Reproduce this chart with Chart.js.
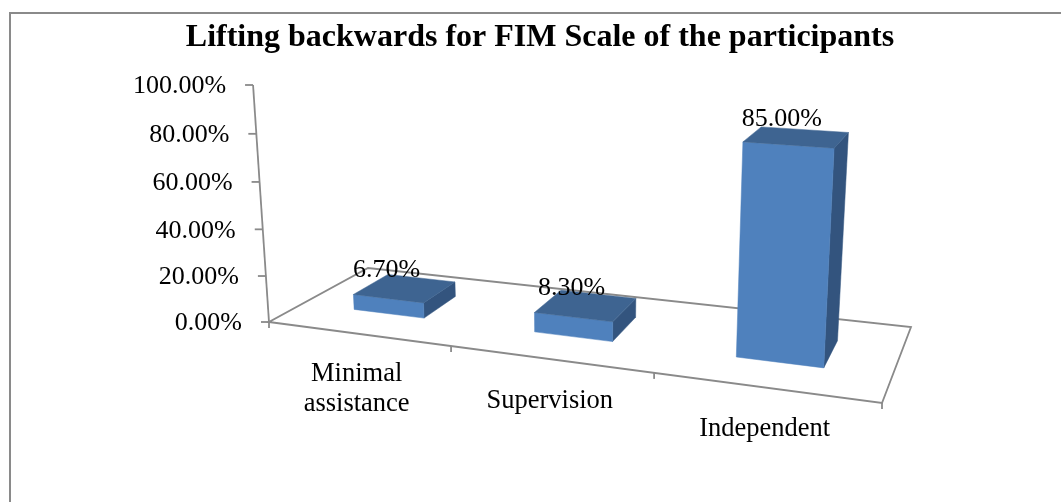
<!DOCTYPE html>
<html><head><meta charset="utf-8">
<style>html,body{margin:0;padding:0;background:#fff}#w{position:absolute;left:0;top:0;width:1061px;height:502px}</style>
<script src="https://cdn.jsdelivr.net/npm/chart.js@4/dist/chart.umd.min.js"></script>
</head><body><div id="w"><canvas id="c" width="1061" height="502"></canvas></div>
<script>
const chartTitle = "Lifting backwards for FIM Scale of the participants";
const categories = [["Minimal","assistance"],"Supervision","Independent"];
const seriesName = "Lifting backwards";
const percentValues = [6.7, 8.3, 85.0];
const yTickStep = 20;
const yMax = 100;

const serif = '"Liberation Serif","Times New Roman",serif';
const FL=[269,322],FR=[882,403],BL=[368,268],BR=[911,327];
const persp=-0.155, depthFront=0.35, depthBack=0.72;
const lerp=(a,b,k)=>[a[0]+(b[0]-a[0])*k,a[1]+(b[1]-a[1])*k];
function floorPt(u,d){const s=u*(1+persp)/(1+persp*u);return lerp(lerp(FL,FR,s),lerp(BL,BR,s),d);}
function lift(p,t){
  const f=t+0.0375*t*(t-1);
  return [p[0]+(-16+0.0508*(p[0]-268))*f, p[1]-(237+0.5*(p[1]-322))*f];
}
function poly(ctx,pts,fill){ctx.beginPath();pts.forEach((p,i)=>i?ctx.lineTo(p[0],p[1]):ctx.moveTo(p[0],p[1]));ctx.closePath();ctx.fillStyle=fill;ctx.fill();ctx.strokeStyle=fill;ctx.lineWidth=0.5;ctx.stroke();}
function line(ctx,a,b){ctx.beginPath();ctx.moveTo(a[0],a[1]);ctx.lineTo(b[0],b[1]);ctx.stroke();}

const scene3d={
  id:'scene3d',
  beforeDatasetsDraw(){return false;},
  afterDraw(chart){
    const ctx=chart.ctx,xs=chart.scales.x,ys=chart.scales.y,area=chart.chartArea;
    const U=px=>(px-area.left)/area.width;
    const T=py=>(area.bottom-py)/area.height;
    ctx.save();
    // frame
    ctx.strokeStyle='#8a8a8a';ctx.lineWidth=2;
    ctx.beginPath();ctx.moveTo(10,502);ctx.lineTo(10,13);ctx.lineTo(1061,13);ctx.stroke();
    // floor
    ctx.strokeStyle='#8a8a8a';ctx.lineWidth=1.8;
    ctx.beginPath();[FL,FR,BR,BL].forEach((p,i)=>i?ctx.lineTo(p[0],p[1]):ctx.moveTo(p[0],p[1]));ctx.closePath();ctx.stroke();
    // value axis
    line(ctx,FL,lift(FL,1));
    ctx.fillStyle='#000';ctx.font='26px '+serif;ctx.textAlign='right';ctx.textBaseline='middle';
    ys.ticks.forEach(tk=>{
      const p=lift(FL,T(ys.getPixelForValue(tk.value)));
      line(ctx,p,[p[0]-8,p[1]]);
      ctx.fillText(tk.label,p[0]-27,p[1]+1.5);
    });
    // category ticks
    for(let i=0;i<=categories.length;i++){const p=floorPt(i/categories.length,0);line(ctx,p,[p[0],p[1]+6]);}
    // category labels
    ctx.font='26.5px '+serif;ctx.textAlign='center';
    categories.forEach((c,i)=>{
      const p=floorPt(U(xs.getPixelForValue(i)),0);
      const lines=[].concat(c);
      lines.forEach((s,j)=>ctx.fillText(s,p[0]-(lines.length>1?1:0),p[1]+(lines.length>1?40:41.5)+30*j));
    });
    // bars
    const meta=chart.getDatasetMeta(0);
    meta.data.forEach(el=>{
      const ul=U(el.x-el.width/2),ur=U(el.x+el.width/2),t=T(el.y);
      const a=floorPt(ul,depthFront),b=floorPt(ur,depthFront),c=floorPt(ur,depthBack),d=floorPt(ul,depthBack);
      const A=lift(a,t),B=lift(b,t),C=lift(c,t),D=lift(d,t);
      poly(ctx,[b,c,C,B],'#33547e');
      poly(ctx,[a,b,B,A],'#4f81bd');
      poly(ctx,[A,B,C,D],'#3e6491');
    });
    // data labels
    ctx.fillStyle='#000';ctx.font='26px '+serif;ctx.textAlign='center';ctx.textBaseline='alphabetic';
    meta.data.forEach((el,i)=>{
      const t=T(el.y),p=lift(floorPt(U(el.x),depthFront),t);
      ctx.fillText(percentValues[i].toFixed(2)+'%',p[0]-1-6*t,p[1]-22+4*t);
    });
    ctx.restore();
  }
};

new Chart(document.getElementById('c'),{
  type:'bar',
  data:{labels:categories,datasets:[{label:seriesName,data:percentValues,backgroundColor:'#4f81bd',categoryPercentage:1,barPercentage:0.4}]},
  plugins:[scene3d],
  options:{
    responsive:false,animation:false,
    layout:{padding:{left:19,top:0,right:0,bottom:0}},
    plugins:{legend:{display:false},tooltip:{enabled:false},
      title:{display:true,text:chartTitle,color:'#000',font:{family:serif,size:32,weight:'bold'},padding:{top:19,bottom:10}}},
    scales:{
      x:{display:false},
      y:{display:false,min:0,max:yMax,ticks:{stepSize:yTickStep,callback:v=>Number(v).toFixed(2)+'%'}}
    }
  }
});
</script></body></html>
